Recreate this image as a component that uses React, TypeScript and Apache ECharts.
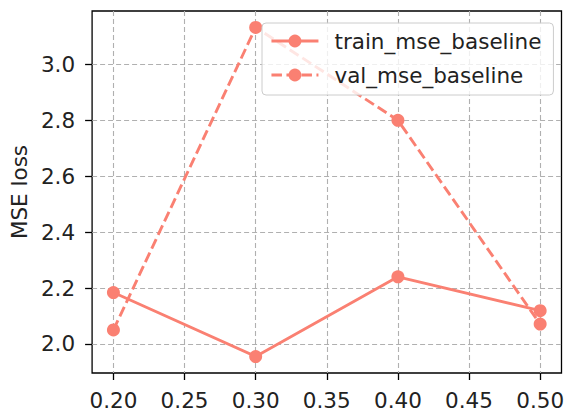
import React, { useEffect, useRef } from "react";
import * as echarts from "echarts";

const xValues = [0.2, 0.3, 0.4, 0.5];
const trainMse = [2.184, 1.955, 2.24, 2.119];
const valMse = [2.05, 3.132, 2.8, 2.071];
const xTicks = [0.2, 0.25, 0.3, 0.35, 0.4, 0.45, 0.5];
const yTicks = [2.0, 2.2, 2.4, 2.6, 2.8, 3.0];
const seriesNames = ["train_mse_baseline", "val_mse_baseline"];

const COLOR = "#FA8072";
const FONT = "DejaVu Sans";
const FS = 21.5;

export default function App() {
  const ref = useRef<HTMLDivElement>(null);
  useEffect(() => {
    if (!ref.current) return;
    const chart = echarts.init(ref.current, undefined, { renderer: "svg" });
    const allY = [...trainMse, ...valMse];
    const yMinD = Math.min(...allY);
    const yMaxD = Math.max(...allY);
    const yM = (yMaxD - yMinD) * 0.05;
    const xM = (xValues[xValues.length - 1] - xValues[0]) * 0.05;
    const mk = (vals: number[]) => xValues.map((x, i) => [x, vals[i]]);
    chart.setOption({
      animation: false,
      grid: {
        left: 90,
        top: 11,
        right: 4,
        bottom: 36,
        show: true,
        borderColor: "#000",
        borderWidth: 1.3,
        backgroundColor: "transparent",
      },
      legend: {
        orient: "vertical",
        left: 262,
        top: 23,
        padding: [6, 12, 8, 8],
        itemGap: 10,
        itemWidth: 47,
        itemHeight: 16,
        backgroundColor: "rgba(255,255,255,0.8)",
        borderColor: "#cccccc",
        borderWidth: 1,
        borderRadius: 4,
        lineStyle: { width: 2.9 },
        textStyle: {
          fontFamily: FONT,
          fontSize: FS,
          color: "#222",
          lineHeight: 24,
          padding: [0, 0, 0, 11],
        },
        data: seriesNames,
      },
      xAxis: {
        type: "value",
        min: xValues[0] - xM,
        max: xValues[xValues.length - 1] + xM,
        axisLine: { show: false },
        axisTick: {
          show: true,
          length: 7,
          lineStyle: { color: "#000", width: 1.3 },
          customValues: xTicks,
        },
        axisLabel: {
          customValues: xTicks,
          formatter: (v: number) => v.toFixed(2),
          fontFamily: FONT,
          fontSize: FS,
          color: "#222",
          margin: 16,
          showMinLabel: true,
          showMaxLabel: true,
        },
        splitLine: {
          show: true,
          lineStyle: { color: "#b0b0b0", width: 1.1, type: [5, 3] },
        },
      },
      yAxis: {
        type: "value",
        min: yMinD - yM,
        max: yMaxD + yM,
        name: "MSE loss",
        nameLocation: "middle",
        nameRotate: 90,
        nameGap: 62,
        nameTextStyle: { fontFamily: FONT, fontSize: FS, color: "#222" },
        axisLine: { show: false },
        axisTick: {
          show: true,
          length: 7,
          lineStyle: { color: "#000", width: 1.3 },
          customValues: yTicks,
        },
        axisLabel: {
          customValues: yTicks,
          formatter: (v: number) => v.toFixed(1),
          fontFamily: FONT,
          fontSize: FS,
          color: "#222",
          margin: 17,
        },
        splitLine: {
          show: true,
          lineStyle: { color: "#b0b0b0", width: 1.1, type: [5, 3] },
        },
      },
      series: [
        {
          name: seriesNames[0],
          type: "line",
          data: mk(trainMse),
          symbol: "circle",
          symbolSize: 13,
          showAllSymbol: true,
          itemStyle: { color: COLOR },
          lineStyle: { color: COLOR, width: 2.9, type: "solid" },
          z: 3,
        },
        {
          name: seriesNames[1],
          type: "line",
          data: mk(valMse),
          symbol: "circle",
          symbolSize: 13,
          showAllSymbol: true,
          itemStyle: { color: COLOR },
          lineStyle: { color: COLOR, width: 2.9, type: [10.5, 4.5] },
          z: 3,
        },
      ],
    });
    return () => chart.dispose();
  }, []);
  return <div ref={ref} style={{ width: 567, height: 411, position: "absolute", left: 0, top: 0 }} />;
}
